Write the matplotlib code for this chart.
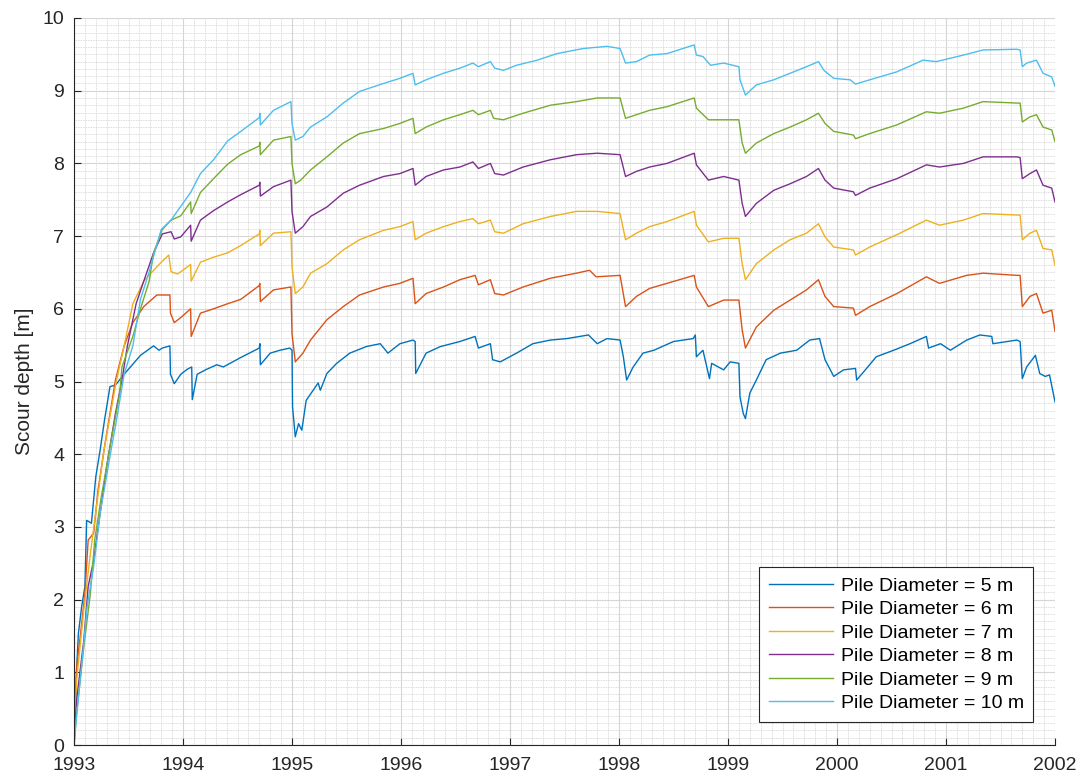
import matplotlib
matplotlib.use('Agg')
import matplotlib.pyplot as plt
import numpy as np
from matplotlib.ticker import MultipleLocator

# time axis in decimal years (scour depth in m)
t_d5 = [1993.0, 1993.024, 1993.04, 1993.07, 1993.10, 1993.116, 1993.16, 1993.20, 1993.24, 1993.28, 1993.33,
        1993.38, 1993.46, 1993.61, 1993.73, 1993.78, 1993.81, 1993.88, 1993.885, 1993.92, 1993.98, 1994.04,
        1994.08, 1994.085, 1994.13, 1994.22, 1994.31, 1994.37, 1994.53, 1994.70, 1994.705, 1994.71, 1994.80,
        1994.89, 1994.98, 1995.0, 1995.005, 1995.03, 1995.06, 1995.09, 1995.13, 1995.24, 1995.26, 1995.32,
        1995.41, 1995.53, 1995.68, 1995.81, 1995.88, 1995.99, 1996.11, 1996.13, 1996.135, 1996.23, 1996.36,
        1996.54, 1996.68, 1996.71, 1996.82, 1996.84, 1996.91, 1997.06, 1997.21, 1997.37, 1997.52, 1997.72,
        1997.80, 1997.89, 1998.01, 1998.04, 1998.07, 1998.13, 1998.22, 1998.32, 1998.50, 1998.68, 1998.70,
        1998.71, 1998.77, 1998.83, 1998.85, 1998.96, 1999.02, 1999.10, 1999.11, 1999.14, 1999.16, 1999.20,
        1999.26, 1999.35, 1999.48, 1999.63, 1999.75, 1999.84, 1999.89, 1999.97, 2000.06, 2000.17, 2000.18,
        2000.26, 2000.36, 2000.52, 2000.67, 2000.82, 2000.84, 2000.95, 2001.04, 2001.19, 2001.31, 2001.42,
        2001.43, 2001.65, 2001.68, 2001.70, 2001.74, 2001.82, 2001.86, 2001.91, 2001.95, 2002.0]
d5 = [0.0, 1.03, 1.53, 1.90, 2.18, 3.09, 3.05, 3.69, 4.06, 4.47, 4.93,
      4.95, 5.10, 5.36, 5.49, 5.43, 5.46, 5.49, 5.10, 4.97, 5.10, 5.17,
      5.20, 4.75, 5.10, 5.17, 5.23, 5.20, 5.33, 5.46, 5.52, 5.23, 5.39,
      5.43, 5.46, 5.43, 4.65, 4.24, 4.42, 4.33, 4.74, 4.98, 4.88, 5.11,
      5.25, 5.39, 5.48, 5.52, 5.39, 5.52, 5.57, 5.55, 5.11, 5.39, 5.48,
      5.55, 5.62, 5.46, 5.52, 5.30, 5.27, 5.39, 5.52, 5.57, 5.59, 5.64,
      5.52, 5.59, 5.57, 5.34, 5.02, 5.20, 5.39, 5.43, 5.55, 5.59, 5.64,
      5.34, 5.43, 5.04, 5.25, 5.16, 5.27, 5.25, 4.79, 4.56, 4.49, 4.84,
      5.02, 5.30, 5.39, 5.43, 5.57, 5.59, 5.30, 5.07, 5.16, 5.18, 5.02,
      5.16, 5.34, 5.43, 5.52, 5.62, 5.46, 5.52, 5.43, 5.57, 5.64, 5.62,
      5.52, 5.57, 5.55, 5.04, 5.20, 5.36, 5.11, 5.07, 5.09, 4.72]

t_d6 = [1993.0, 1993.024, 1993.06, 1993.10, 1993.13, 1993.18, 1993.22, 1993.28, 1993.35, 1993.38, 1993.46,
        1993.54, 1993.64, 1993.76, 1993.88, 1993.885, 1993.92, 1993.98, 1994.07, 1994.075, 1994.16, 1994.28,
        1994.41, 1994.53, 1994.70, 1994.705, 1994.71, 1994.83, 1994.99, 1995.0, 1995.03, 1995.10, 1995.17,
        1995.32, 1995.47, 1995.62, 1995.84, 1995.99, 1996.11, 1996.13, 1996.23, 1996.39, 1996.54, 1996.68,
        1996.71, 1996.82, 1996.86, 1996.94, 1997.12, 1997.37, 1997.61, 1997.73, 1997.79, 1998.01, 1998.06,
        1998.16, 1998.28, 1998.44, 1998.69, 1998.71, 1998.82, 1998.96, 1999.10, 1999.13, 1999.16, 1999.26,
        1999.42, 1999.57, 1999.72, 1999.83, 1999.89, 1999.97, 2000.15, 2000.17, 2000.30, 2000.55, 2000.82,
        2000.94, 2001.19, 2001.34, 2001.65, 2001.68, 2001.70, 2001.77, 2001.83, 2001.89, 2001.97, 2002.0]
d6 = [0.0, 1.07, 1.53, 2.08, 2.82, 2.91, 3.50, 4.10, 4.74, 5.02, 5.49,
      5.81, 6.03, 6.19, 6.19, 5.94, 5.81, 5.88, 6.00, 5.62, 5.94, 6.00,
      6.07, 6.13, 6.32, 6.35, 6.10, 6.26, 6.30, 5.66, 5.27, 5.39, 5.57,
      5.85, 6.03, 6.19, 6.30, 6.35, 6.42, 6.07, 6.21, 6.30, 6.40, 6.46,
      6.33, 6.40, 6.21, 6.19, 6.30, 6.42, 6.49, 6.53, 6.44, 6.46, 6.03,
      6.17, 6.28, 6.35, 6.46, 6.30, 6.03, 6.12, 6.12, 5.71, 5.46, 5.75,
      5.98, 6.12, 6.26, 6.40, 6.17, 6.03, 6.01, 5.91, 6.03, 6.21, 6.44,
      6.35, 6.46, 6.49, 6.46, 6.46, 6.03, 6.17, 6.21, 5.94, 5.98, 5.69]

t_d7 = [1993.0, 1993.024, 1993.09, 1993.15, 1993.21, 1993.27, 1993.33, 1993.39, 1993.46, 1993.54, 1993.64,
        1993.70, 1993.80, 1993.87, 1993.89, 1993.95, 1993.98, 1994.07, 1994.075, 1994.16, 1994.28, 1994.41,
        1994.53, 1994.70, 1994.705, 1994.71, 1994.83, 1994.99, 1995.0, 1995.03, 1995.10, 1995.17, 1995.32,
        1995.47, 1995.62, 1995.84, 1995.99, 1996.11, 1996.13, 1996.23, 1996.39, 1996.54, 1996.66, 1996.71,
        1996.82, 1996.86, 1996.94, 1997.12, 1997.37, 1997.61, 1997.80, 1998.01, 1998.06, 1998.16, 1998.28,
        1998.44, 1998.69, 1998.71, 1998.82, 1998.96, 1999.10, 1999.13, 1999.16, 1999.26, 1999.42, 1999.57,
        1999.72, 1999.83, 1999.89, 1999.97, 2000.15, 2000.17, 2000.30, 2000.55, 2000.82, 2000.94, 2001.16,
        2001.34, 2001.65, 2001.68, 2001.70, 2001.77, 2001.83, 2001.89, 2001.97, 2002.0]
d7 = [0.0, 0.89, 1.86, 2.63, 3.32, 4.01, 4.52, 5.02, 5.49, 6.07, 6.38,
      6.48, 6.64, 6.74, 6.51, 6.48, 6.51, 6.61, 6.38, 6.64, 6.71, 6.77,
      6.87, 7.03, 7.08, 6.87, 7.04, 7.06, 6.58, 6.21, 6.30, 6.49, 6.62,
      6.81, 6.95, 7.08, 7.13, 7.20, 6.95, 7.04, 7.13, 7.20, 7.24, 7.17,
      7.22, 7.06, 7.04, 7.17, 7.27, 7.34, 7.34, 7.31, 6.95, 7.04, 7.13,
      7.20, 7.34, 7.15, 6.92, 6.97, 6.97, 6.62, 6.40, 6.62, 6.81, 6.95,
      7.04, 7.17, 6.99, 6.85, 6.81, 6.74, 6.85, 7.02, 7.22, 7.15, 7.22,
      7.31, 7.29, 7.29, 6.95, 7.04, 7.08, 6.83, 6.81, 6.60]

t_d8 = [1993.0, 1993.024, 1993.09, 1993.13, 1993.18, 1993.24, 1993.30, 1993.38, 1993.44, 1993.49, 1993.57,
        1993.64, 1993.73, 1993.81, 1993.89, 1993.92, 1993.98, 1994.07, 1994.075, 1994.16, 1994.28, 1994.41,
        1994.53, 1994.70, 1994.705, 1994.71, 1994.83, 1994.99, 1995.0, 1995.03, 1995.10, 1995.17, 1995.32,
        1995.47, 1995.62, 1995.84, 1995.99, 1996.11, 1996.13, 1996.23, 1996.39, 1996.54, 1996.66, 1996.71,
        1996.82, 1996.86, 1996.94, 1997.12, 1997.37, 1997.61, 1997.80, 1998.01, 1998.06, 1998.16, 1998.28,
        1998.44, 1998.69, 1998.71, 1998.82, 1998.96, 1999.10, 1999.13, 1999.16, 1999.26, 1999.42, 1999.57,
        1999.72, 1999.83, 1999.89, 1999.97, 2000.15, 2000.17, 2000.30, 2000.55, 2000.82, 2000.94, 2001.16,
        2001.34, 2001.65, 2001.68, 2001.70, 2001.77, 2001.83, 2001.89, 2001.97, 2002.0]
d8 = [0.0, 0.62, 1.44, 2.18, 2.54, 3.19, 3.83, 4.56, 5.02, 5.49, 6.07,
      6.38, 6.77, 7.03, 7.06, 6.96, 6.99, 7.15, 6.93, 7.22, 7.35, 7.47,
      7.57, 7.70, 7.74, 7.55, 7.68, 7.77, 7.34, 7.04, 7.13, 7.27, 7.40,
      7.59, 7.70, 7.82, 7.86, 7.93, 7.70, 7.82, 7.91, 7.95, 8.02, 7.93,
      8.00, 7.86, 7.84, 7.95, 8.05, 8.12, 8.14, 8.12, 7.82, 7.89, 7.95,
      8.00, 8.14, 7.98, 7.77, 7.82, 7.77, 7.45, 7.27, 7.45, 7.63, 7.72,
      7.82, 7.93, 7.77, 7.66, 7.61, 7.56, 7.66, 7.79, 7.98, 7.95, 8.00,
      8.09, 8.09, 8.08, 7.79, 7.86, 7.91, 7.70, 7.66, 7.47]

t_d9 = [1993.0, 1993.024, 1993.09, 1993.15, 1993.19, 1993.25, 1993.33, 1993.42, 1993.44, 1993.54, 1993.61,
        1993.69, 1993.73, 1993.81, 1993.89, 1993.98, 1994.07, 1994.075, 1994.16, 1994.28, 1994.41, 1994.53,
        1994.70, 1994.705, 1994.71, 1994.83, 1994.99, 1995.0, 1995.03, 1995.08, 1995.17, 1995.32, 1995.47,
        1995.62, 1995.84, 1995.99, 1996.11, 1996.13, 1996.23, 1996.39, 1996.54, 1996.66, 1996.71, 1996.82,
        1996.85, 1996.94, 1997.12, 1997.37, 1997.61, 1997.80, 1998.01, 1998.06, 1998.16, 1998.28, 1998.44,
        1998.69, 1998.71, 1998.82, 1998.96, 1999.10, 1999.13, 1999.16, 1999.26, 1999.42, 1999.57, 1999.72,
        1999.83, 1999.89, 1999.97, 2000.15, 2000.17, 2000.30, 2000.55, 2000.82, 2000.94, 2001.16, 2001.34,
        2001.65, 2001.68, 2001.70, 2001.77, 2001.83, 2001.89, 2001.97, 2002.0]
d9 = [0.0, 0.43, 1.35, 2.08, 2.82, 3.41, 4.10, 4.84, 5.20, 5.62, 6.00,
      6.38, 6.77, 7.09, 7.22, 7.28, 7.47, 7.31, 7.60, 7.79, 7.99, 8.12,
      8.24, 8.29, 8.12, 8.32, 8.37, 8.00, 7.72, 7.77, 7.91, 8.09, 8.28,
      8.41, 8.48, 8.55, 8.62, 8.41, 8.50, 8.60, 8.67, 8.73, 8.67, 8.73,
      8.62, 8.60, 8.69, 8.80, 8.85, 8.90, 8.90, 8.62, 8.67, 8.73, 8.78,
      8.90, 8.76, 8.60, 8.60, 8.60, 8.28, 8.14, 8.28, 8.41, 8.50, 8.60,
      8.69, 8.55, 8.44, 8.39, 8.34, 8.41, 8.53, 8.71, 8.69, 8.76, 8.85,
      8.83, 8.83, 8.57, 8.64, 8.67, 8.50, 8.46, 8.30]

t_d10 = [1993.0, 1993.02, 1993.09, 1993.12, 1993.18, 1993.24, 1993.33, 1993.39, 1993.46, 1993.54, 1993.61,
         1993.69, 1993.80, 1993.89, 1993.98, 1994.07, 1994.16, 1994.28, 1994.41, 1994.53, 1994.70, 1994.705,
         1994.71, 1994.83, 1994.99, 1995.0, 1995.03, 1995.10, 1995.17, 1995.32, 1995.47, 1995.62, 1995.84,
         1995.99, 1996.11, 1996.13, 1996.23, 1996.39, 1996.54, 1996.66, 1996.71, 1996.82, 1996.86, 1996.94,
         1997.06, 1997.25, 1997.43, 1997.67, 1997.89, 1998.01, 1998.06, 1998.16, 1998.28, 1998.44, 1998.69,
         1998.71, 1998.77, 1998.84, 1998.96, 1999.10, 1999.11, 1999.16, 1999.26, 1999.42, 1999.57, 1999.72,
         1999.83, 1999.88, 1999.97, 2000.12, 2000.17, 2000.30, 2000.55, 2000.79, 2000.91, 2001.16, 2001.34,
         2001.65, 2001.68, 2001.70, 2001.74, 2001.83, 2001.89, 2001.97, 2002.0]
d10 = [0.0, 0.34, 1.40, 1.90, 2.45, 3.19, 3.97, 4.47, 5.10, 5.49, 6.13,
       6.51, 7.09, 7.22, 7.41, 7.60, 7.86, 8.05, 8.31, 8.44, 8.63, 8.69,
       8.53, 8.73, 8.85, 8.55, 8.32, 8.37, 8.50, 8.64, 8.83, 8.99, 9.10,
       9.17, 9.24, 9.08, 9.15, 9.24, 9.31, 9.38, 9.33, 9.40, 9.31, 9.28,
       9.35, 9.42, 9.51, 9.58, 9.61, 9.58, 9.38, 9.40, 9.49, 9.51, 9.63,
       9.49, 9.47, 9.35, 9.38, 9.33, 9.15, 8.94, 9.08, 9.15, 9.24, 9.33,
       9.40, 9.28, 9.17, 9.15, 9.09, 9.15, 9.26, 9.42, 9.40, 9.49, 9.56,
       9.57, 9.56, 9.33, 9.38, 9.42, 9.24, 9.19, 9.06]

labels = ['Pile Diameter = 5 m', 'Pile Diameter = 6 m', 'Pile Diameter = 7 m',
          'Pile Diameter = 8 m', 'Pile Diameter = 9 m', 'Pile Diameter = 10 m']
years = list(range(1993, 2003))

# MATLAB default line colours
colors = ['#0072BD', '#D95319', '#EDB120', '#7E2F8E', '#77AC30', '#4DBEEE']

plt.rcParams['font.family'] = ['Liberation Sans', 'DejaVu Sans']

fig = plt.figure(figsize=(10.83, 7.78), dpi=100)
ax = fig.add_axes([74 / 1083, 1 - 745 / 778, 981 / 1083, 727 / 778])

series = [(t_d5, d5), (t_d6, d6), (t_d7, d7), (t_d8, d8), (t_d9, d9), (t_d10, d10)]
for (t, d), c, lab in zip(series, colors, labels):
    ax.plot(t, d, color=c, lw=1.0, label=lab)

ax.set_xlim(1993, 2002)
ax.set_ylim(0, 10)
ax.set_xticks(years)
ax.set_xticklabels([str(y) for y in years])
ax.set_yticks(range(0, 11))
ax.xaxis.set_minor_locator(MultipleLocator(0.1))
ax.yaxis.set_minor_locator(MultipleLocator(0.1))

ax.set_axisbelow(True)
ax.grid(which='major', color='#d6d6d6', lw=0.8, ls='-')
ax.grid(which='minor', color='#d0d0d0', lw=0.6, ls=(0, (1, 1)))

for s in ['top', 'right']:
    ax.spines[s].set_visible(False)
for s in ['left', 'bottom']:
    ax.spines[s].set_color('#262626')
    ax.spines[s].set_linewidth(0.8)

ax.tick_params(which='major', direction='in', length=5, width=0.8, color='#262626',
               labelsize=14, labelcolor='#262626', pad=7)
ax.tick_params(which='minor', length=0)
ax.tick_params(axis='x', pad=9)

ax.set_ylabel('Scour depth [m]', fontsize=15, color='#262626', labelpad=6)

leg = ax.legend(loc='lower right', bbox_to_anchor=(0.978, 0.032), borderaxespad=0,
                fontsize=14, handlelength=3.3, handletextpad=0.4, labelspacing=0.3,
                fancybox=False, framealpha=1, edgecolor='#262626', borderpad=0.5)
leg.get_frame().set_linewidth(0.8)

fig.savefig('out.png', dpi=100)
